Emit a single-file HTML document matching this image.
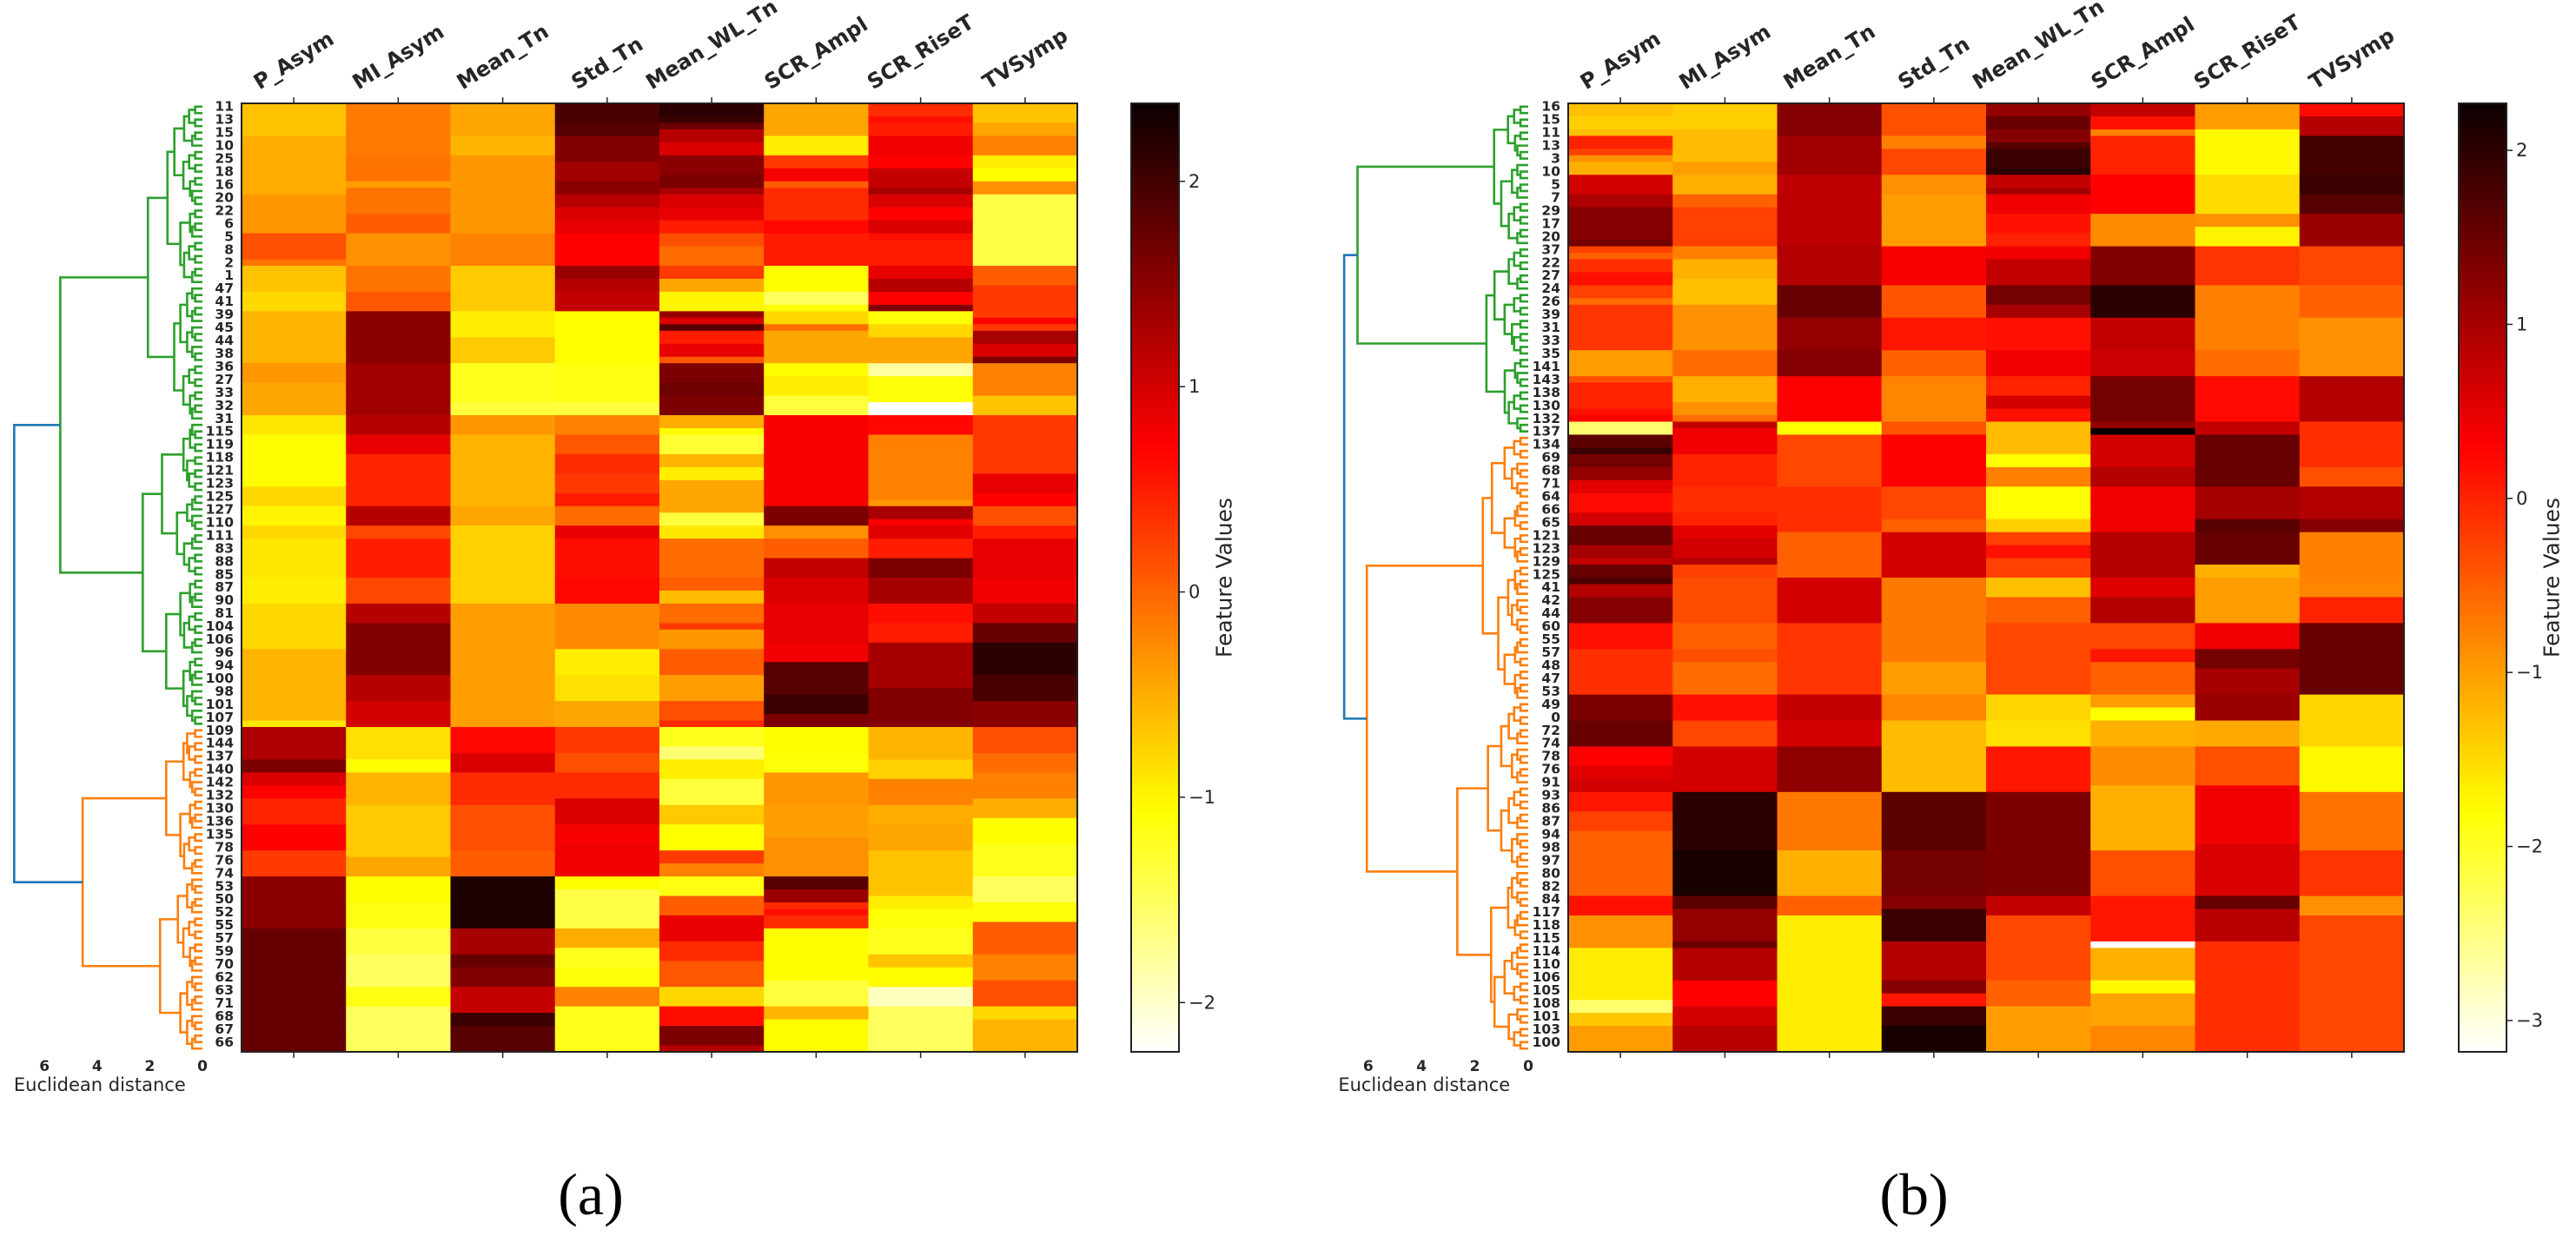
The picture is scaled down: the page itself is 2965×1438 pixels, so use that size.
<!DOCTYPE html>
<html><head><meta charset="utf-8"><title>Clustered heatmaps</title>
<style>
html,body{margin:0;padding:0;background:#fff;}
svg{display:block;font-family:"DejaVu Sans","Liberation Sans",sans-serif;}
</style></head>
<body>
<svg id="fig" width="2965" height="1438" viewBox="0 0 2965 1438" xmlns="http://www.w3.org/2000/svg">
<rect x="0" y="0" width="2965" height="1438" fill="#fff"/>
<defs>
<linearGradient id="gradA" x1="0" y1="1" x2="0" y2="0"></linearGradient>
<linearGradient id="gradB" x1="0" y1="1" x2="0" y2="0"></linearGradient>
</defs>
<g id="panelA"></g>
<g id="panelB"></g>
<text x="680" y="1398" font-family="Liberation Serif, serif" font-size="68" text-anchor="middle" fill="#000">(a)</text>
<text x="2203" y="1398" font-family="Liberation Serif, serif" font-size="68" text-anchor="middle" fill="#000">(b)</text>
</svg>
<script>
// ---- shared categories ----
const features = ["P_Asym","MI_Asym","Mean_Tn","Std_Tn","Mean_WL_Tn","SCR_Ampl","SCR_RiseT","TVSymp"];
const rowLabelsA = ["11","13","15","10","25","18","16","20","22","6","5","8","2","1","47","41","39","45","44","38","36","27","33","32","31","115","119","118","121","123","125","127","110","111","83","88","85","87","90","81","104","106","96","94","100","98","101","107","109","144","137","140","142","132","130","136","135","78","76","74","53","50","52","55","57","59","70","62","63","71","68","67","66"];
const rowLabelsB = ["16","15","11","13","3","10","5","7","29","17","20","37","22","27","24","26","39","31","33","35","141","143","138","130","132","137","134","69","68","71","64","66","65","121","123","129","125","41","42","44","60","55","57","48","47","53","49","0","72","74","78","76","91","93","86","87","94","98","97","80","82","84","117","118","115","114","110","106","105","108","101","103","100"];
const cbTicksA = [2,1,0,-1,-2];
const cbTicksB = [2,1,0,-1,-2,-3];
const distTicks = [6,4,2,0];
// colour limits
const vminA = -2.24, vmaxA = 2.38;
const vminB = -3.18, vmaxB = 2.27;
// ---- panel (a) values: run-length pairs [value, number of consecutive rows] ----
const A_P_Asym = [[-0.65,5],[-0.5,9],[-0.35,6],[0.15,4],[-0.1,1],[-0.65,4],[-0.8,3],[-0.55,8],[-0.35,3],[-0.45,5],[-0.9,3],[-1.05,8],[-0.8,3],[-1.0,3],[-0.8,2],[-0.9,6],[-0.95,4],[-0.8,7],[-0.55,11],[-0.9,1],[1.25,5],[1.6,2],[0.95,2],[0.7,2],[0.45,4],[0.7,4],[0.3,4],[1.5,8],[1.75,19]];
const A_MI_Asym = [[-0.15,8],[-0.1,4],[-0.4,1],[-0.1,4],[0.05,3],[-0.3,5],[-0.1,4],[0.1,3],[1.5,8],[1.35,8],[1.2,3],[0.85,3],[0.45,8],[1.2,3],[0.2,2],[0.5,6],[0.2,4],[1.2,3],[1.55,8],[1.2,4],[1.0,4],[-0.85,5],[-1.05,2],[-0.55,5],[-0.7,8],[-0.45,3],[-1.05,4],[-1.15,4],[-1.35,4],[-1.5,5],[-1.15,3],[-1.5,7]];
const A_Mean_Tn = [[-0.45,5],[-0.55,3],[-0.35,12],[-0.2,5],[-0.7,7],[-0.95,4],[-0.7,4],[-1.2,6],[-1.35,2],[-0.35,3],[-0.55,11],[-0.45,3],[-0.75,8],[-0.75,4],[-0.4,19],[0.65,4],[0.95,3],[0.4,5],[0.15,7],[0.05,4],[2.25,8],[1.3,4],[1.75,2],[1.55,3],[1.1,4],[2.05,2],[1.85,4]];
const A_Std_Tn = [[1.95,3],[1.85,2],[1.55,4],[1.35,3],[1.5,2],[1.2,2],[0.95,2],[0.85,2],[0.7,5],[1.4,2],[1.2,2],[1.1,3],[-1.07,8],[-1.15,6],[-1.35,2],[-0.2,3],[0.1,3],[0.4,3],[0.3,3],[0.5,2],[-0.05,3],[0.85,2],[0.6,6],[0.65,4],[-0.25,7],[-0.95,4],[-0.85,4],[-0.45,4],[0.3,4],[0.15,3],[0.4,4],[0.95,4],[0.75,3],[0.8,5],[-1.05,2],[-1.4,6],[-0.5,3],[-1.2,3],[-1.1,3],[-0.2,3],[-1.2,7]];
const A_Mean_WL_Tn = [[2.15,2],[2.05,1],[1.7,1],[1.2,2],[0.95,2],[1.5,3],[1.6,2],[1.3,1],[0.95,2],[0.85,2],[0.5,2],[0.15,2],[-0.05,3],[0.3,2],[-0.45,2],[-1.0,3],[1.4,1],[0.95,1],[1.85,1],[0.5,2],[0.85,2],[0.1,1],[1.6,3],[1.7,2],[1.6,3],[-0.5,2],[-1.05,1],[-1.3,3],[-0.55,2],[-0.95,2],[-0.45,5],[-1.35,2],[-0.9,2],[-0.05,6],[0.05,2],[-0.6,2],[-0.05,3],[0.3,1],[-0.35,3],[0.05,4],[-0.4,4],[0.15,3],[0.4,1],[-1.2,3],[-1.6,2],[-0.95,3],[-1.35,4],[-0.7,3],[-1.07,4],[0.3,2],[-0.2,2],[-1.15,3],[0.05,3],[0.85,4],[0.4,3],[0.1,4],[-0.8,3],[0.6,3],[1.6,3],[1.2,1]];
const A_SCR_Ampl = [[-0.45,5],[-0.95,3],[0.3,2],[0.75,2],[0.05,1],[0.4,5],[0.65,2],[0.5,5],[-1.05,4],[-1.5,2],[-1.05,1],[-0.8,2],[-0.05,1],[-0.45,5],[-1.05,2],[-0.95,3],[-1.35,3],[0.75,14],[1.6,3],[-0.3,2],[0.05,3],[1.1,3],[0.95,4],[0.85,6],[0.8,3],[1.85,5],[2.05,3],[1.6,2],[-1.05,4],[-1.1,3],[-0.35,5],[-0.4,5],[-0.3,6],[1.85,2],[1.4,2],[0.4,1],[0.6,1],[0.4,2],[-1.05,8],[-1.35,4],[-0.55,2],[-1.05,5]];
const A_SCR_RiseT = [[0.4,2],[0.6,1],[0.5,2],[0.8,3],[0.7,2],[1.1,3],[1.3,1],[0.95,2],[0.7,2],[0.95,2],[0.6,1],[0.5,4],[0.85,2],[1.2,2],[0.7,2],[1.55,1],[-1.1,2],[-0.8,2],[-0.45,4],[-1.8,2],[-1.1,4],[-2.24,2],[0.65,3],[-0.2,10],[-0.35,1],[1.3,2],[0.75,1],[0.9,2],[0.5,3],[1.6,3],[1.3,4],[0.6,3],[0.5,3],[1.3,7],[1.55,6],[-0.55,5],[-0.75,3],[-0.2,4],[-0.5,3],[-0.45,4],[-0.65,7],[-0.95,2],[-1.1,3],[-1.2,4],[-0.65,2],[-1.05,3],[-1.95,3],[-1.5,7]];
const A_TVSymp = [[-0.65,3],[-0.45,2],[-0.2,3],[-0.95,2],[-1.07,2],[-0.3,2],[-1.4,11],[0.05,3],[0.3,5],[0.7,1],[0.3,1],[1.3,2],[0.95,2],[1.6,1],[-0.2,5],[-0.65,3],[0.3,9],[0.85,3],[0.7,2],[0.15,3],[0.5,2],[0.85,6],[0.8,4],[1.1,3],[1.75,3],[2.15,5],[1.95,4],[1.5,4],[0.15,4],[-0.05,3],[-0.2,4],[-0.5,3],[-1.05,4],[-1.2,5],[-1.5,4],[-1.1,3],[0.05,5],[-0.2,4],[0.15,4],[-0.8,2],[-0.55,5]];
// ---- panel (b) values ----
const B_P_Asym = [[-1.28,2],[-1.4,2],[-1.28,1],[0.0,2],[-0.25,1],[-0.9,1],[-1.15,2],[0.65,3],[0.95,2],[1.27,5],[1.4,1],[-0.25,1],[-0.5,1],[-0.1,2],[0.15,2],[-0.25,2],[-0.6,1],[-0.15,7],[-1.0,4],[-0.37,1],[0.0,4],[0.15,1],[0.28,1],[-2.4,2],[1.6,2],[1.9,1],[1.4,2],[1.15,2],[0.52,2],[0.2,3],[0.65,2],[1.52,3],[1.02,2],[0.77,1],[1.52,2],[1.75,1],[0.9,2],[1.27,4],[0.15,4],[-0.1,7],[1.35,4],[1.52,4],[0.28,3],[0.52,2],[0.65,2],[0.1,3],[-0.25,3],[-0.5,10],[0.15,3],[-0.9,5],[-1.65,8],[-2.4,2],[-1.35,2],[-1.0,4]];
const B_MI_Asym = [[-1.4,4],[-1.25,5],[-1.0,2],[-1.15,3],[-0.5,2],[-0.25,6],[-0.76,2],[-1.15,3],[-1.28,4],[-0.9,7],[-0.6,4],[-1.15,4],[-0.9,2],[-0.6,1],[0.77,1],[0.4,4],[0.0,5],[-0.1,4],[0.0,2],[0.52,2],[0.65,3],[0.9,1],[-0.25,2],[-0.35,7],[-0.5,4],[-0.37,2],[-0.6,5],[0.15,4],[-0.3,4],[0.65,7],[2.0,9],[2.15,7],[1.6,2],[1.15,5],[1.5,1],[0.9,5],[0.28,4],[0.65,3],[0.85,4]];
const B_Mean_Tn = [[1.27,5],[1.05,6],[0.8,11],[0.9,6],[1.52,5],[1.15,5],[1.27,4],[0.3,7],[-1.8,2],[-0.3,8],[-0.1,7],[-0.5,7],[0.65,7],[-0.15,11],[0.77,4],[0.65,4],[1.2,7],[-0.7,9],[-1.15,7],[-0.5,3],[-1.65,21]];
const B_Std_Tn = [[-0.37,5],[-0.76,2],[-0.3,4],[-0.9,3],[-1.0,8],[0.35,6],[-0.4,5],[0.1,5],[-0.5,4],[-0.8,7],[-0.4,2],[0.3,8],[-0.3,5],[-0.5,2],[0.65,7],[-0.7,13],[-1.0,5],[-0.8,4],[-1.25,11],[1.6,9],[1.4,7],[1.27,2],[1.9,5],[0.9,6],[1.27,2],[0.1,2],[1.9,3],[2.15,4]];
const B_Mean_WL_Tn = [[1.15,2],[1.52,2],[1.27,2],[1.65,1],[1.9,3],[2.0,1],[0.77,2],[1.02,1],[0.4,3],[0.15,3],[0.0,2],[0.4,2],[0.77,4],[1.4,3],[1.0,2],[0.15,5],[0.4,4],[0.0,3],[0.65,2],[0.15,2],[-1.25,5],[-1.8,2],[-0.76,3],[-1.8,5],[-1.4,2],[-0.25,2],[0.15,2],[-0.25,3],[-1.28,3],[-0.5,4],[-0.3,11],[-1.45,4],[-1.55,4],[0.1,7],[1.35,16],[0.77,3],[-0.3,10],[-0.5,4],[-1.0,7]];
const B_SCR_Ampl = [[0.77,2],[0.15,2],[-0.76,1],[0.0,6],[0.28,6],[-0.85,5],[1.3,6],[2.0,5],[0.77,5],[0.7,4],[1.4,7],[1.15,1],[2.27,1],[0.65,5],[0.9,3],[0.4,5],[0.4,2],[0.9,7],[0.55,3],[0.9,4],[-0.3,4],[0.1,2],[-0.5,5],[-1.0,2],[-1.8,2],[-1.15,4],[-0.85,6],[-1.15,10],[-0.37,7],[0.1,7],[-3.18,1],[-1.15,5],[-1.75,2],[-1.05,5],[-0.8,4]];
const B_SCR_RiseT = [[-1.0,4],[-1.75,7],[-1.5,6],[-0.9,2],[-1.7,3],[-0.15,6],[-0.76,10],[-0.6,4],[0.2,7],[0.77,2],[1.52,8],[1.02,5],[1.65,2],[1.52,5],[-1.15,2],[-1.0,7],[0.4,4],[1.4,3],[1.0,4],[1.1,4],[-1.1,4],[-0.37,6],[0.4,9],[0.6,8],[1.52,2],[0.85,5],[-0.1,17]];
const B_TVSymp = [[0.2,2],[0.9,3],[1.8,6],[1.9,3],[1.65,3],[1.1,5],[-0.3,6],[-0.5,5],[-0.9,9],[0.9,7],[-0.1,7],[-0.37,3],[0.9,5],[1.27,2],[-0.76,7],[-0.8,3],[0.0,4],[1.52,11],[-1.45,8],[-1.75,7],[-0.65,9],[-0.15,7],[-0.9,3],[-0.3,21]];

const NS = "http://www.w3.org/2000/svg";
function mk(tag, attrs, parent){
  const e = document.createElementNS(NS, tag);
  for (const k in attrs) e.setAttribute(k, attrs[k]);
  if (parent) parent.appendChild(e);
  return e;
}
function expand(rle){ const out=[]; rle.forEach(p=>{ for(let i=0;i<p[1];i++) out.push(p[0]); }); return out; }
function hot(h){
  h=Math.max(0,Math.min(1,h));
  const r = h<0.365079 ? 0.0416+(1-0.0416)*h/0.365079 : 1;
  const g = h<0.365079 ? 0 : (h<0.746032 ? (h-0.365079)/(0.746032-0.365079) : 1);
  const b = h<0.746032 ? 0 : (h-0.746032)/(1-0.746032);
  return "rgb("+Math.round(r*255)+","+Math.round(g*255)+","+Math.round(b*255)+")";
}
function colorFor(v, vmin, vmax){ const t=(v-vmin)/(vmax-vmin); return hot(1-t); }

function buildGradient(id, n){
  const g = document.getElementById(id);
  for (let i=0;i<=n;i++){
    const t=i/n;
    mk("stop",{offset:(t*100)+"%","stop-color":hot(1-t)},g);
  }
}
buildGradient("gradA",64);
buildGradient("gradB",64);

function drawPanel(cfg){
  const root = document.getElementById(cfg.id);
  const nRows = 146, top = 119, bottom = 1211;
  const rowH = (bottom-top)/nRows;
  const colW = (cfg.x1-cfg.x0)/features.length;
  const yOf = r => top + r*rowH;
  const xOf = c => cfg.x0 + c*colW;
  const hm = mk("g",{},root);
  
  
  cfg.series.forEach((rle, c) => {
    const vals = expand(rle);
    vals.forEach((v, r) => {
      if (r>=nRows) return;
      const cell = mk("rect",{x:xOf(c).toFixed(2), y:yOf(r).toFixed(2), width:(colW+0.6).toFixed(2), height:(rowH+0.6).toFixed(2), fill:colorFor(v,cfg.vmin,cfg.vmax)}, hm);
      
      
    });
  });
  const frame = mk("rect",{x:cfg.x0,y:top,width:cfg.x1-cfg.x0,height:bottom-top,fill:"none",stroke:"#222","stroke-width":2},root);
  
  
  features.forEach((f,c)=>{
    const cx = xOf(c)+colW/2;
    mk("line",{x1:cx,y1:top,x2:cx,y2:top-7,stroke:"#222","stroke-width":1.5},root);
    mk("line",{x1:cx,y1:bottom,x2:cx,y2:bottom+7,stroke:"#222","stroke-width":1.5},root);
    const t = mk("text",{x:cx,y:0,"font-size":24,"font-weight":"bold",fill:"#262626","text-anchor":"middle","dominant-baseline":"central"},root);
    t.textContent = f;
    
    
    const L = t.getComputedTextLength ? t.getComputedTextLength() : f.length*15;
    const ang = 32*Math.PI/180;
    const bh = L*Math.sin(ang) + 24*Math.cos(ang);
    const cy = 107 - bh/2;
    t.setAttribute("y", cy);
    t.setAttribute("transform","rotate(-32 "+cx+" "+cy+")");
  });
  cfg.labels.forEach((lab,i)=>{
    const r = i*2;
    const t = mk("text",{x:cfg.x0-9,y:(yOf(r)+rowH/2).toFixed(2),"font-size":15.5,"font-weight":"bold",fill:"#262626","text-anchor":"end","dominant-baseline":"central"},root);
    t.textContent = lab;
    
    
  });
  const cb = mk("rect",{x:cfg.cbx,y:top,width:55,height:bottom-top,fill:"url(#"+cfg.grad+")",stroke:"#222","stroke-width":2},root);
  
  
  cfg.ticks.forEach(v=>{
    const y = top + (cfg.vmax-v)/(cfg.vmax-cfg.vmin)*(bottom-top);
    mk("line",{x1:cfg.cbx+55,y1:y,x2:cfg.cbx+62,y2:y,stroke:"#222","stroke-width":1.5},root);
    const t = mk("text",{x:cfg.cbx+66,y:y,"font-size":21,fill:"#262626","dominant-baseline":"central"},root);
    t.textContent = v<0 ? "\u2212"+Math.abs(v) : String(v);
    
    
  });
  const cl = mk("text",{x:cfg.cbx+107,y:(top+bottom)/2,"font-size":25,fill:"#262626","text-anchor":"middle","dominant-baseline":"central",transform:"rotate(-90 "+(cfg.cbx+107)+" "+((top+bottom)/2)+")"},root);
  cl.textContent = "Feature Values";
  
  
  const dg = mk("g",{fill:"none","stroke-width":2.6},root);
  
  
  const dx = d => cfg.leafX - d*cfg.pxPerUnit;
  const N = nRows;
  function build(lo, hi, color, hTop){
    if (lo===hi) return {y: yOf(lo)+rowH/2, d: 0};
    const n = hi-lo+1;
    const h = hTop!==undefined ? hTop : cfg.leafScale*Math.pow(n/N,0.62)*(0.85+0.3*(((lo*7+hi*3)%10)/10));
    const split = lo + Math.max(1, Math.min(n-1, Math.round(n*(0.4+0.2*((lo*5+hi)%7)/7))));
    const a = build(lo, split-1, color);
    const b = build(split, hi, color);
    mk("polyline",{points:[dx(a.d),a.y, dx(h),a.y, dx(h),b.y, dx(b.d),b.y].join(" "),stroke:color},dg);
    return {y:(a.y+b.y)/2, d:h};
  }
  const g1 = build(0, cfg.splitRow-1, "#2ca02c", cfg.hGreen);
  const g2 = build(cfg.splitRow, N-1, "#ff7f0e", cfg.hOrange);
  mk("polyline",{points:[dx(g1.d),g1.y, dx(cfg.hRoot),g1.y, dx(cfg.hRoot),g2.y, dx(g2.d),g2.y].join(" "),stroke:"#1f77b4"},dg);
  distTicks.forEach(v=>{
    const t = mk("text",{x:dx(v),y:1228,"font-size":17,"font-weight":"bold",fill:"#262626","text-anchor":"middle","dominant-baseline":"central"},root);
    t.textContent = String(v);
    
    
  });
  const xl = mk("text",{x:dx(3.9),y:1249,"font-size":21,fill:"#262626","text-anchor":"middle","dominant-baseline":"central"},root);
  xl.textContent = "Euclidean distance";
  
  
}

drawPanel({id:"panelA", x0:278, x1:1240, series:[A_P_Asym,A_MI_Asym,A_Mean_Tn,A_Std_Tn,A_Mean_WL_Tn,A_SCR_Ampl,A_SCR_RiseT,A_TVSymp],
  vmin:vminA, vmax:vmaxA, labels:rowLabelsA, cbx:1302, grad:"gradA", ticks:cbTicksA,
  leafX:233, pxPerUnit:30.3, splitRow:96, hGreen:5.4, hOrange:4.55, hRoot:7.15, leafScale:4.2});
drawPanel({id:"panelB", x0:1805, x1:2767, series:[B_P_Asym,B_MI_Asym,B_Mean_Tn,B_Std_Tn,B_Mean_WL_Tn,B_SCR_Ampl,B_SCR_RiseT,B_TVSymp],
  vmin:vminB, vmax:vmaxB, labels:rowLabelsB, cbx:2830, grad:"gradB", ticks:cbTicksB,
  leafX:1759, pxPerUnit:30.7, splitRow:51, hGreen:6.4, hOrange:6.05, hRoot:6.9, leafScale:4.4});
</script>
</body></html>
